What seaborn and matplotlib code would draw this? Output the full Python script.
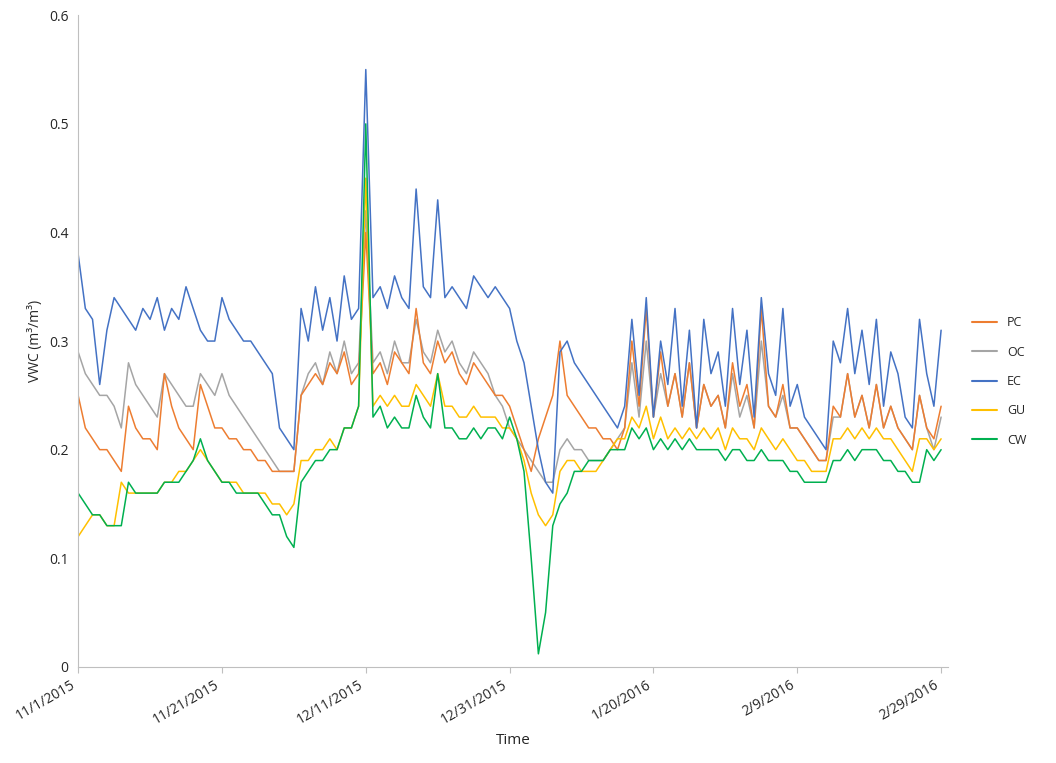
import matplotlib
matplotlib.use("Agg")
import matplotlib.pyplot as plt
import matplotlib.dates as mdates
import seaborn as sns
import pandas as pd
import numpy as np

# daily readings, 11/1/2015 .. 2/29/2016
dates = pd.date_range("2015-11-01", "2016-02-29", freq="D")

pc = [.25,.22,.21,.20,.20,.19,.18,.24,.22,.21,
      .21,.20,.27,.24,.22,.21,.20,.26,.24,.22,
      .22,.21,.21,.20,.20,.19,.19,.18,.18,.18,
      .18,.25,.26,.27,.26,.28,.27,.29,.26,.27,
      .40,.27,.28,.26,.29,.28,.27,.33,.28,.27,
      .30,.28,.29,.27,.26,.28,.27,.26,.25,.25,
      .24,.22,.20,.18,.21,.23,.25,.30,.25,.24,
      .23,.22,.22,.21,.21,.20,.22,.30,.24,.33,
      .23,.29,.24,.27,.23,.28,.22,.26,.24,.25,
      .22,.28,.24,.26,.22,.33,.24,.23,.26,.22,
      .22,.21,.20,.19,.19,.24,.23,.27,.23,.25,
      .22,.26,.22,.24,.22,.21,.20,.25,.22,.21,
      .24]
oc = [.29,.27,.26,.25,.25,.24,.22,.28,.26,.25,
      .24,.23,.27,.26,.25,.24,.24,.27,.26,.25,
      .27,.25,.24,.23,.22,.21,.20,.19,.18,.18,
      .18,.25,.27,.28,.26,.29,.27,.30,.27,.28,
      .42,.28,.29,.27,.30,.28,.28,.32,.29,.28,
      .31,.29,.30,.28,.27,.29,.28,.27,.25,.24,
      .22,.21,.20,.19,.18,.17,.17,.20,.21,.20,
      .20,.19,.19,.19,.20,.21,.22,.28,.23,.30,
      .23,.27,.24,.27,.23,.28,.22,.26,.24,.25,
      .22,.27,.23,.25,.22,.30,.24,.23,.25,.22,
      .22,.21,.20,.19,.19,.23,.23,.27,.23,.25,
      .22,.26,.22,.24,.22,.21,.20,.25,.22,.20,
      .23]
ec = [.38,.33,.32,.26,.31,.34,.33,.32,.31,.33,
      .32,.34,.31,.33,.32,.35,.33,.31,.30,.30,
      .34,.32,.31,.30,.30,.29,.28,.27,.22,.21,
      .20,.33,.30,.35,.31,.34,.30,.36,.32,.33,
      .55,.34,.35,.33,.36,.34,.33,.44,.35,.34,
      .43,.34,.35,.34,.33,.36,.35,.34,.35,.34,
      .33,.30,.28,.24,.20,.17,.16,.29,.30,.28,
      .27,.26,.25,.24,.23,.22,.24,.32,.25,.34,
      .23,.30,.26,.33,.24,.31,.22,.32,.27,.29,
      .24,.33,.26,.31,.23,.34,.27,.25,.33,.24,
      .26,.23,.22,.21,.20,.30,.28,.33,.27,.31,
      .26,.32,.24,.29,.27,.23,.22,.32,.27,.24,
      .31]
gu = [.12,.13,.14,.14,.13,.13,.17,.16,.16,.16,
      .16,.16,.17,.17,.18,.18,.19,.20,.19,.18,
      .17,.17,.17,.16,.16,.16,.16,.15,.15,.14,
      .15,.19,.19,.20,.20,.21,.20,.22,.22,.24,
      .45,.24,.25,.24,.25,.24,.24,.26,.25,.24,
      .27,.24,.24,.23,.23,.24,.23,.23,.23,.22,
      .22,.21,.19,.16,.14,.13,.14,.18,.19,.19,
      .18,.18,.18,.19,.20,.21,.21,.23,.22,.24,
      .21,.23,.21,.22,.21,.22,.21,.22,.21,.22,
      .20,.22,.21,.21,.20,.22,.21,.20,.21,.20,
      .19,.19,.18,.18,.18,.21,.21,.22,.21,.22,
      .21,.22,.21,.21,.20,.19,.18,.21,.21,.20,
      .21]
cw = [.16,.15,.14,.14,.13,.13,.13,.17,.16,.16,
      .16,.16,.17,.17,.17,.18,.19,.21,.19,.18,
      .17,.17,.16,.16,.16,.16,.15,.14,.14,.12,
      .11,.17,.18,.19,.19,.20,.20,.22,.22,.24,
      .50,.23,.24,.22,.23,.22,.22,.25,.23,.22,
      .27,.22,.22,.21,.21,.22,.21,.22,.22,.21,
      .23,.21,.18,.10,.012,.05,.13,.15,.16,.18,
      .18,.19,.19,.19,.20,.20,.20,.22,.21,.22,
      .20,.21,.20,.21,.20,.21,.20,.20,.20,.20,
      .19,.20,.20,.19,.19,.20,.19,.19,.19,.18,
      .18,.17,.17,.17,.17,.19,.19,.20,.19,.20,
      .20,.20,.19,.19,.18,.18,.17,.17,.20,.19,
      .20]

series = {"PC": pc, "OC": oc, "EC": ec, "GU": gu, "CW": cw}
colors = {"PC": "#ED7D31", "OC": "#A5A5A5", "EC": "#4472C4", "GU": "#FFC000", "CW": "#00B050"}

df = pd.DataFrame(series, index=dates).reset_index(names="Time")
long_df = df.melt(id_vars="Time", var_name="site", value_name="VWC")

sns.set_style("white")
plt.rcParams["font.family"] = ["Open Sans", "DejaVu Sans"]

fig = plt.figure(figsize=(10.56, 7.63), dpi=100)
ax = fig.add_axes([0.074, 0.126, 0.824, 0.854])
for name in ["OC", "PC", "GU", "CW", "EC"]:
    sub = long_df[long_df["site"] == name]
    sns.lineplot(data=sub, x="Time", y="VWC", color=colors[name], lw=1.1, ax=ax, label=None)

ax.set_ylim(0, 0.6)
ax.set_xlim(pd.Timestamp("2015-11-01"), pd.Timestamp("2016-03-01"))
ax.set_yticks(np.arange(0, 0.61, 0.1))
ax.set_yticklabels(["0", "0.1", "0.2", "0.3", "0.4", "0.5", "0.6"], fontsize=10)
ticks = pd.date_range("2015-11-01", periods=7, freq="20D")
ax.set_xticks(ticks)
ax.set_xticklabels([f"{t.month}/{t.day}/{t.year}" for t in ticks], rotation=30, ha="right", fontsize=10)
ax.set_xlabel("Time", fontsize=11)
ax.set_ylabel("VWC (m³/m³)", fontsize=10)
for s in ["top", "right"]:
    ax.spines[s].set_visible(False)
for s in ["left", "bottom"]:
    ax.spines[s].set_color("#BFBFBF")
ax.tick_params(axis="x", length=4, color="#BFBFBF", direction="out", bottom=True)

handles = [plt.Line2D([], [], color=colors[n], lw=1.5) for n in series]
fig.legend(handles, list(series), loc="center left", bbox_to_anchor=(0.91, 0.5),
           frameon=False, fontsize=9, handlelength=2, labelspacing=1.3)

fig.savefig("out.png", dpi=100)
